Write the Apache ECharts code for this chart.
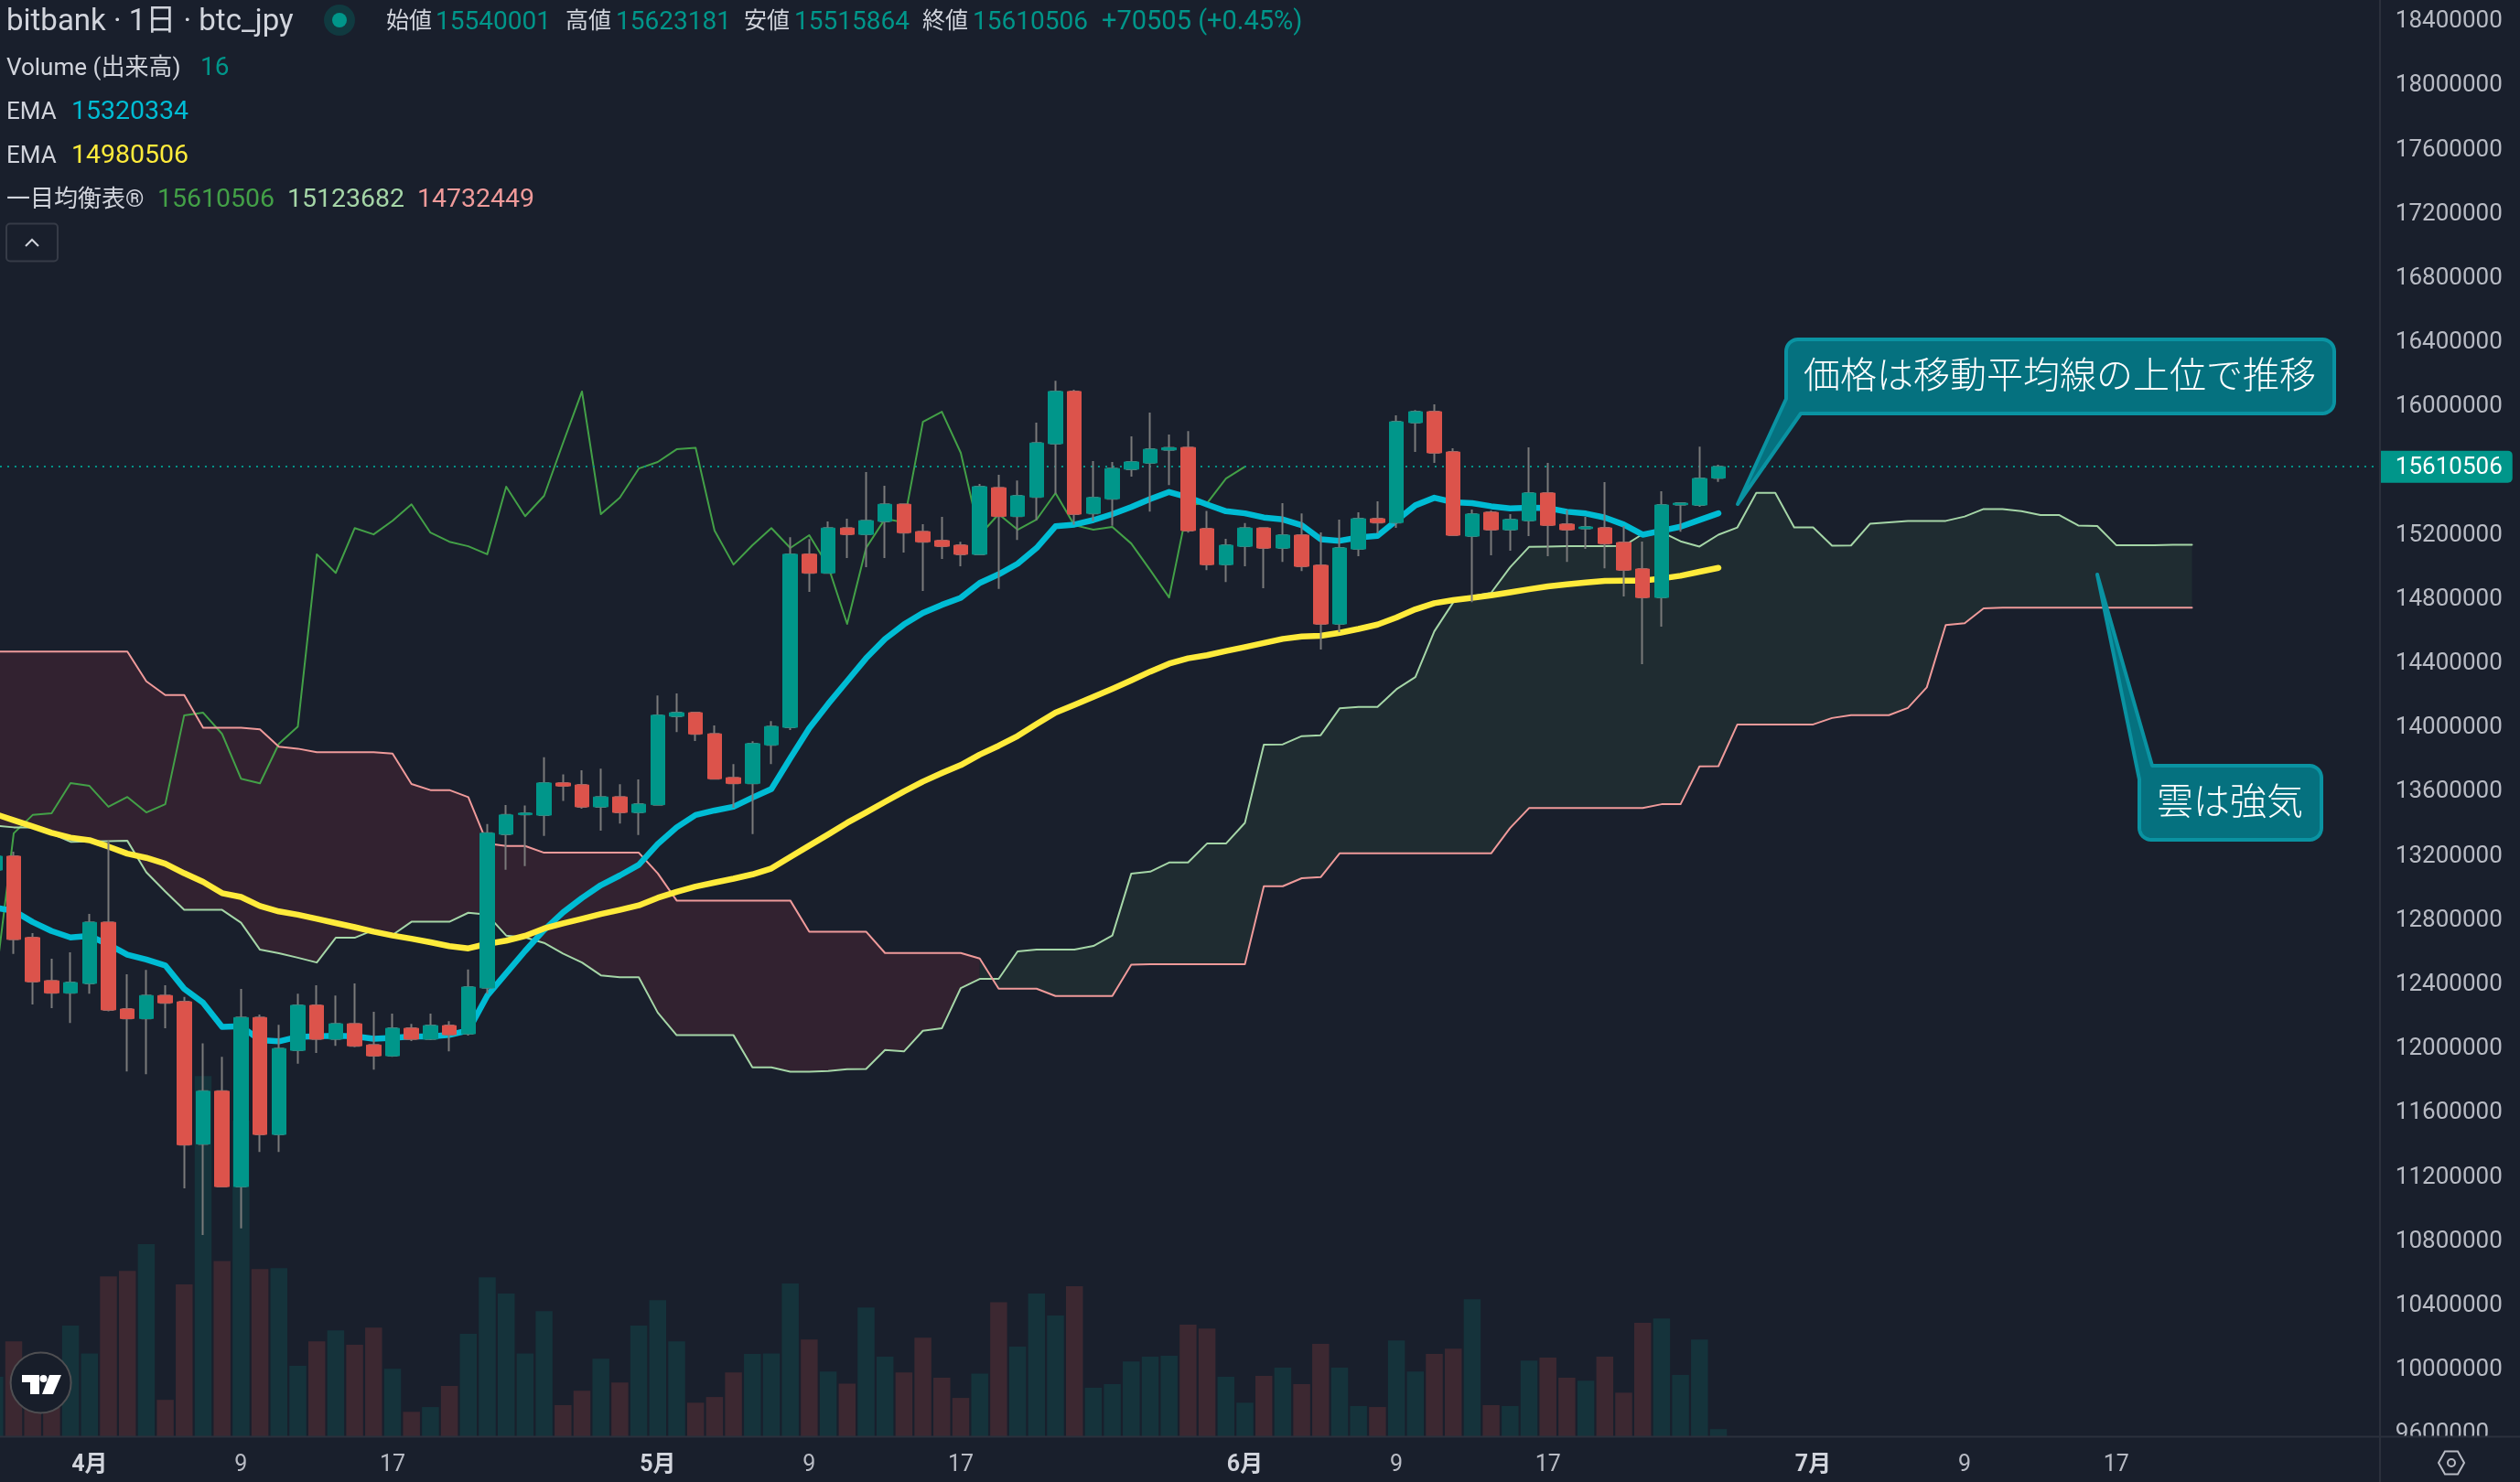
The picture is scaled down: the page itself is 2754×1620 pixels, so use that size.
<!DOCTYPE html>
<html lang="ja">
<head>
<meta charset="utf-8">
<title>bitbank BTC/JPY</title>
<script src="https://cdn.jsdelivr.net/npm/echarts@6/dist/echarts.min.js"></script>
<style>html,body{margin:0;padding:0;background:#191f2c}#chart{width:2754px;height:1620px}</style>
</head>
<body>
<div id="chart"></div>
<script>
// ---- DATA (JPY) ----
const dates = [
'3-27','3-28','3-29','3-30','3-31',
'4-1','4-2','4-3','4-4','4-5','4-6','4-7','4-8','4-9','4-10','4-11','4-12','4-13','4-14','4-15','4-16','4-17','4-18','4-19','4-20','4-21','4-22','4-23','4-24','4-25','4-26','4-27','4-28','4-29','4-30',
'5-1','5-2','5-3','5-4','5-5','5-6','5-7','5-8','5-9','5-10','5-11','5-12','5-13','5-14','5-15','5-16','5-17','5-18','5-19','5-20','5-21','5-22','5-23','5-24','5-25','5-26','5-27','5-28','5-29','5-30','5-31',
'6-1','6-2','6-3','6-4','6-5','6-6','6-7','6-8','6-9','6-10','6-11','6-12','6-13','6-14','6-15','6-16','6-17','6-18','6-19','6-20','6-21','6-22','6-23','6-24','6-25','6-26','6-27','6-28','6-29','6-30',
'7-1','7-2','7-3','7-4','7-5','7-6','7-7','7-8','7-9','7-10','7-11','7-12','7-13','7-14','7-15','7-16','7-17','7-18','7-19','7-20','7-21','7-22','7-23','7-24','7-25','7-26','7-27','7-28','7-29','7-30','7-31'];
const xTickLabels = {'4-1':'4月','4-9':'9','4-17':'17','5-1':'5月','5-9':'9','5-17':'17','6-1':'6月','6-9':'9','6-17':'17','7-1':'7月','7-9':'9','7-17':'17'};
const priceTicks = [18400000,18000000,17600000,17200000,16800000,16400000,16000000,15200000,14800000,14400000,14000000,13600000,13200000,12800000,12400000,12000000,11600000,11200000,10800000,10400000,10000000,9600000];
const lastPrice = 15610506;

const opens = [13098000,13184000,12677000,12408000,12333000,12392000,12772000,12232000,12173000,12316000,
12277000,11392000,11720000,11126000,12179000,11451000,11975000,12255000,12045000,12140000,
12008000,11941000,12112000,12045000,12129000,12078000,12364000,13321000,13444000,13440000,
13640000,13628000,13492000,13553000,13457000,13505000,14056000,14078000,13946000,13673000,
13638000,13878000,13987000,15065000,14949000,15228000,15189000,15270000,15376000,15206000,
15150000,15121000,15065000,15479000,15302000,15422000,15754000,16079000,15320000,15411000,
15595000,15634000,15715000,15730000,15224000,15001000,15115000,15228000,15104000,15184000,
14996000,14631000,15098000,15286000,15263000,15885000,15953000,15702000,15178000,15326000,
15218000,15275000,15446000,15252000,15225000,15229000,15138000,14973000,14796000,15374000,
15372000,15540001];
const closes = [13184000,12666000,12403000,12333000,12397000,12772000,12227000,12173000,12316000,12271000,
11387000,11720000,11126000,12179000,11451000,11986000,12255000,12045000,12140000,12003000,
11941000,12112000,12045000,12129000,12073000,12369000,13327000,13441000,13452000,13640000,
13622000,13492000,13553000,13457000,13508000,14062000,14078000,13946000,13667000,13638000,
13885000,13992000,15065000,14949000,15228000,15189000,15274000,15376000,15200000,15143000,
15115000,15065000,15486000,15302000,15429000,15758000,16079000,15315000,15418000,15599000,
15640000,15719000,15728000,15213000,15001000,15121000,15228000,15104000,15184000,14990000,
14631000,15104000,15286000,15263000,15890000,15953000,15697000,15184000,15315000,15218000,
15281000,15446000,15246000,15218000,15235000,15132000,14967000,14796000,15372000,15383000,
15537000,15610506];
const lows = [13050000,12576000,12260000,12238000,12145000,12327000,12218000,11843000,11826000,12112000,
11115000,10824000,11121000,10866000,11342000,11342000,11891000,11958000,12003000,11994000,
11854000,11935000,12033000,12039000,11969000,12067000,12327000,13100000,13122000,13310000,
13528000,13480000,13344000,13388000,13316000,13502000,13958000,13902000,13667000,13486000,
13322000,13758000,13970000,14831000,14949000,15041000,14984000,15041000,15076000,14836000,
15036000,14990000,15065000,14849000,15154000,15276000,15442000,15250000,15272000,15243000,
15549000,15331000,15496000,15200000,14966000,14892000,14990000,14853000,15018000,14961000,
14471000,14580000,15053000,15195000,15229000,15702000,15634000,15184000,14766000,15058000,
15087000,15178000,15053000,15018000,15098000,14978000,14802000,14380000,14614000,15206000,
15360000,15515864];
const highs = [13230000,13212000,12705000,12546000,12585000,12825000,13282000,12448000,12476000,12380000,
12308000,12019000,11935000,12358000,12198000,12134000,12327000,12380000,12316000,12392000,
12215000,12204000,12140000,12204000,12157000,12478000,13385000,13503000,13500000,13800000,
13694000,13720000,13730000,13633000,13662000,14186000,14198000,14078000,13998000,13758000,
13900000,14026000,15171000,15160000,15270000,15287000,15577000,15492000,15376000,15252000,
15298000,15143000,15503000,15560000,15525000,15885000,16146000,16090000,15645000,15640000,
15800000,15948000,15811000,15832000,15335000,15161000,15259000,15228000,15383000,15320000,
15201000,15281000,15326000,15395000,15930000,15964000,15999000,15725000,15343000,15338000,
15315000,15731000,15634000,15341000,15298000,15514000,15241000,15144000,15457000,15389000,
15736000,15623181];
const volumes = [125,199,132,132,232,174,335,346,402,77,
318,753,367,660,350,352,148,199,222,192,
228,142,52,62,106,215,333,299,174,262,
66,96,163,113,232,285,199,71,83,134,
173,174,320,203,136,111,270,167,134,207,
123,81,132,281,188,299,253,314,102,110,
157,167,169,234,226,125,71,127,144,110,
194,144,64,62,201,136,173,184,287,66,
64,159,165,123,117,167,92,238,247,129,
203,16];
const emaFast = [12864000,12844000,12774000,12718000,12678000,12688000,12634000,12570000,12540000,12504000,
12358000,12271000,12121000,12125000,12039000,12031000,12059000,12063000,12065000,12063000,
12047000,12053000,12061000,12061000,12071000,12099000,12315000,12455000,12594000,12724000,
12834000,12924000,13004000,13064000,13130000,13260000,13364000,13441000,13469000,13492000,
13549000,13603000,13795000,13981000,14133000,14275000,14417000,14537000,14628000,14700000,
14750000,14794000,14886000,14940000,15006000,15104000,15239000,15250000,15278000,15315000,
15359000,15409000,15453000,15420000,15375000,15333000,15320000,15294000,15282000,15246000,
15159000,15149000,15170000,15180000,15275000,15370000,15417000,15389000,15383000,15364000,
15351000,15355000,15353000,15330000,15319000,15294000,15250000,15187000,15212000,15237000,
15279000,15320334];
const emaSlow = [13448000,13408000,13370000,13330000,13300000,13284000,13244000,13200000,13174000,13138000,
13078000,13024000,12954000,12930000,12874000,12840000,12820000,12794000,12768000,12742000,
12714000,12690000,12670000,12648000,12624000,12610000,12638000,12658000,12688000,12734000,
12766000,12794000,12824000,12850000,12878000,12925000,12962000,12995000,13020000,13044000,
13071000,13108000,13180000,13250000,13320000,13392000,13457000,13523000,13588000,13649000,
13702000,13752000,13817000,13872000,13933000,14007000,14079000,14127000,14177000,14227000,
14279000,14334000,14384000,14417000,14436000,14462000,14487000,14512000,14538000,14553000,
14557000,14576000,14600000,14627000,14671000,14722000,14760000,14779000,14794000,14809000,
14828000,14847000,14865000,14878000,14889000,14899000,14901000,14901000,14914000,14931000,
14956000,14980506];
const chikou = [12369000,13327000,13441000,13452000,13640000,13622000,13492000,13553000,13457000,13508000,
14062000,14078000,13946000,13667000,13638000,13885000,13992000,15065000,14949000,15228000,
15189000,15274000,15376000,15200000,15143000,15115000,15065000,15486000,15302000,15429000,
15758000,16079000,15315000,15418000,15599000,15640000,15719000,15728000,15213000,15001000,
15121000,15228000,15104000,15184000,14990000,14631000,15104000,15286000,15263000,15890000,
15953000,15697000,15184000,15315000,15218000,15281000,15446000,15246000,15218000,15235000,
15132000,14967000,14796000,15372000,15383000,15537000,15610506];
const senkouA = [13374000,13364000,13364000,13324000,13274000,13276000,13278000,13280000,13084000,12964000,
12850000,12850000,12850000,12770000,12602000,12580000,12552000,12522000,12676000,12676000,
12724000,12694000,12776000,12776000,12776000,12832000,12820000,12690000,12678000,12644000,
12578000,12522000,12442000,12430000,12430000,12210000,12069000,12069000,12069000,12069000,
11869000,11869000,11842000,11842000,11846000,11857000,11859000,11977000,11968000,12097000,
12112000,12363000,12420000,12420000,12591000,12602000,12602000,12602000,12625000,12690000,
13075000,13088000,13145000,13145000,13263000,13263000,13392000,13879000,13881000,13932000,
13938000,14105000,14114000,14114000,14224000,14300000,14585000,14766000,14804000,14825000,
14984000,15111000,15113000,15115000,15115000,15115000,15117000,15191000,15203000,15146000,
15113000,15187000,15232000,15447000,15447000,15232000,15232000,15118000,15120000,15255000,
15264000,15273000,15273000,15273000,15300000,15347000,15347000,15334000,15309000,15309000,
15244000,15241000,15122000,15122000,15122000,15124000,15123682];
const senkouB = [14459000,14459000,14459000,14459000,14459000,14459000,14459000,14459000,14274000,14188000,
14188000,13984000,13984000,13984000,13974000,13866000,13854000,13832000,13832000,13832000,
13832000,13824000,13634000,13596000,13596000,13552000,13264000,13248000,13248000,13206000,
13206000,13206000,13206000,13206000,13206000,13078000,12908000,12908000,12908000,12908000,
12908000,12908000,12908000,12714000,12714000,12714000,12714000,12581000,12581000,12581000,
12581000,12581000,12547000,12359000,12359000,12359000,12313000,12313000,12313000,12313000,
12509000,12511000,12511000,12511000,12511000,12511000,12511000,12997000,12997000,13047000,
13054000,13202000,13202000,13202000,13202000,13202000,13202000,13202000,13202000,13202000,
13360000,13484000,13484000,13484000,13484000,13484000,13484000,13484000,13508000,13508000,
13744000,13745000,14005000,14005000,14005000,14005000,14005000,14045000,14063000,14063000,
14063000,14108000,14236000,14624000,14635000,14728000,14732000,14732000,14732000,14732000,
14732000,14732000,14732000,14732000,14732000,14732000,14732449];

// ---- STYLE ----
const BG = '#191f2c', TEXT = '#d1d4dc', AXIS_TEXT = '#b8bbc4', LINE = '#2b303c';
const UP = '#00968a', DOWN = '#dc534b', WICK = '#7a7a7a';
const VOL_UP = '#15333b', VOL_DOWN = '#3c2831';
const CLOUD_UP = '#1f2c31', CLOUD_DOWN = '#322230';
const C_EMA1 = '#00bcd4', C_EMA2 = '#ffeb3b', C_CHIKOU = '#43a047', C_A = '#a5d6a7', C_B = '#ef9a9a';
const FONT = 'Roboto, "Noto Sans CJK JP", sans-serif';
const JP = '"Noto Sans CJK JP", Roboto, sans-serif';

const priceMin = 9568000, priceMax = 18517700;

function renderCloud(params, api) {
  const polys = [];
  let run = null;
  const n = Math.min(senkouA.length, senkouB.length);
  for (let i = 0; i < n - 1; i++) {
    const bull = senkouA[i + 1] >= senkouB[i + 1];
    if (!run || run.bull !== bull) { run = {bull, from: i, to: i + 1}; polys.push(run); }
    else run.to = i + 1;
  }
  const children = polys.map(r => {
    const pts = [];
    for (let i = r.from; i <= r.to; i++) pts.push(api.coord([i, senkouA[i]]));
    for (let i = r.to; i >= r.from; i--) pts.push(api.coord([i, senkouB[i]]));
    return {type: 'polygon', shape: {points: pts}, style: {fill: r.bull ? CLOUD_UP : CLOUD_DOWN}};
  });
  return {type: 'group', children};
}

function txt(text, x, y, fill, size, family, align, weight, z) {
  return {type: 'text', z: z || 60, silent: true,
    style: {text, x, y, fill, font: (weight || 400) + ' ' + size + 'px ' + (family || FONT), verticalAlign: 'middle', align: align || 'left'}};
}
function lineEl(x1, y1, x2, y2, stroke, w, z) {
  return {type: 'line', z, silent: true, shape: {x1, y1, x2, y2}, style: {stroke, lineWidth: w}};
}
function poly(points, style, z) {
  return {type: 'polygon', z, silent: true, shape: {points}, style};
}
function arc(cx, cy, r, a0, a1) {
  const out = [];
  for (let k = 0; k <= 8; k++) {
    const a = (a0 + (a1 - a0) * k / 8) * Math.PI / 180;
    out.push([cx + r * Math.cos(a), cy + r * Math.sin(a)]);
  }
  return out;
}
const calloutStyle = {fill: '#05717f', stroke: '#0a93a2', lineWidth: 4, lineJoin: 'round'};

const calloutOne = [].concat(
  arc(1965, 384, 13, 180, 270), arc(2538, 384, 13, 270, 360), arc(2538, 439, 13, 0, 90),
  [[1968, 452], [1899, 551], [1952, 436]]);
const calloutTwo = [].concat(
  [[2352, 837]], arc(2524, 850, 13, 270, 360), arc(2524, 905, 13, 0, 90), arc(2351, 905, 13, 90, 180),
  [[2338, 852], [2292, 628]]);

const graphicEls = [
  {type: 'rect', z: 30, silent: true, shape: {x: 2602, y: 0, width: 152, height: 1620}, style: {fill: BG}},
  {type: 'rect', z: 36, silent: true, shape: {x: 0, y: 1570, width: 2754, height: 50}, style: {fill: BG}},
  lineEl(0, 1570.5, 2754, 1570.5, LINE, 2, 41),
  lineEl(2601, 0, 2601, 1620, LINE, 2, 41),
  // settings icon
  poly([[2665, 1599], [2672, 1586.5], [2686, 1586.5], [2693, 1599], [2686, 1611.5], [2672, 1611.5]], {fill: 'none', stroke: AXIS_TEXT, lineWidth: 2}, 42),
  {type: 'circle', z: 42, silent: true, shape: {cx: 2679, cy: 1599, r: 4}, style: {fill: 'none', stroke: AXIS_TEXT, lineWidth: 2}},
  // TradingView badge
  {type: 'circle', z: 50, silent: true, shape: {cx: 44.6, cy: 1511.5, r: 33}, style: {fill: '#181e2a', stroke: '#4f4f52', lineWidth: 2}},
  poly([[24, 1503], [43, 1503], [43, 1524], [33, 1524], [33, 1511], [24, 1511]], {fill: '#ffffff'}, 51),
  poly([[54, 1503], [67, 1503], [58, 1524], [46, 1524]], {fill: '#ffffff'}, 51),
  {type: 'circle', z: 51, silent: true, shape: {cx: 47.5, cy: 1507, r: 4}, style: {fill: '#ffffff'}},
  // legend block
  txt('bitbank · 1日 · btc_jpy', 7, 25, TEXT, 33),
  {type: 'circle', z: 60, silent: true, shape: {cx: 371, cy: 22, r: 17}, style: {fill: '#103a40'}},
  {type: 'circle', z: 61, silent: true, shape: {cx: 371, cy: 22, r: 8}, style: {fill: '#00968a'}},
  txt('始値', 422, 25, TEXT, 25), txt('15540001', 476, 25, UP, 28),
  txt('高値', 618, 25, TEXT, 25), txt('15623181', 673, 25, UP, 28),
  txt('安値', 813, 25, TEXT, 25), txt('15515864', 868, 25, UP, 28),
  txt('終値', 1008, 25, TEXT, 25), txt('15610506', 1063, 25, UP, 28),
  txt('+70505 (+0.45%)', 1204, 25, UP, 29),
  txt('Volume (出来高)', 7, 75, TEXT, 26), txt('16', 219, 75, UP, 28),
  txt('EMA', 7, 123, TEXT, 26), txt('15320334', 78, 123, C_EMA1, 28.5),
  txt('EMA', 7, 171, TEXT, 26), txt('14980506', 78, 171, C_EMA2, 28.5),
  txt('一目均衡表®', 7, 219, TEXT, 26),
  txt('15610506', 172, 219, C_CHIKOU, 28.5), txt('15123682', 314, 219, C_A, 28.5), txt('14732449', 456, 219, C_B, 28.5),
  {type: 'rect', z: 60, silent: true, shape: {x: 7, y: 244.5, width: 56, height: 41, r: 4}, style: {fill: 'none', stroke: '#363b47', lineWidth: 2}},
  {type: 'polyline', z: 60, silent: true, shape: {points: [[28, 269], [35, 262], [42, 269]]}, style: {fill: 'none', stroke: TEXT, lineWidth: 2}},
  // callouts
  poly(calloutOne, calloutStyle, 55),
  txt('価格は移動平均線の上位で推移', 2251, 409, '#ffffff', 40, JP, 'center', 300, 56),
  poly(calloutTwo, calloutStyle, 55),
  txt('雲は強気', 2437, 875, '#ffffff', 40, JP, 'center', 300, 56)
];

const chart = echarts.init(document.getElementById('chart'), null, {renderer: 'canvas', width: 2754, height: 1620});
const lineSeries = (name, data, color, width, z) => ({
  name, type: 'line', data, z, xAxisIndex: 0, yAxisIndex: 0, showSymbol: false, symbol: 'none', silent: true,
  lineStyle: {color, width, cap: 'round', join: 'round'}, itemStyle: {color}, smooth: false
});

chart.setOption({
  animation: false,
  backgroundColor: BG,
  grid: {left: -16.05, top: 0, width: 2628.9, height: 1570.5, containLabel: false, outerBoundsMode: 'none'},
  xAxis: {
    type: 'category', data: dates, boundaryGap: true, z: 40,
    axisLine: {show: false}, axisTick: {show: false}, splitLine: {show: false},
    axisLabel: {
      interval: (i, v) => v in xTickLabels,
      margin: 19,
      color: AXIS_TEXT, fontSize: 25, fontFamily: FONT,
      formatter: v => {
        const s = xTickLabels[v] || '';
        return s.indexOf('月') >= 0 ? '{m|' + s + '}' : s;
      },
      rich: {m: {color: TEXT, fontSize: 25, fontWeight: 'bold', fontFamily: FONT}}
    }
  },
  yAxis: [
    {type: 'value', position: 'right', min: priceMin, max: priceMax, z: 35, scale: true,
     axisLine: {show: false}, axisTick: {show: false}, splitLine: {show: false},
     axisLabel: {customValues: priceTicks, margin: 5, align: 'left', formatter: v => '{p|' + v + '}',
       rich: {p: {color: AXIS_TEXT, fontSize: 26, fontFamily: FONT, padding: [6, 0, 0, 0]}}}},
    {type: 'value', position: 'right', min: priceMin, max: priceMax, z: 35, scale: true,
     axisLine: {show: false}, axisTick: {show: false}, splitLine: {show: false},
     axisLabel: {customValues: [lastPrice], margin: -12, align: 'left',
       backgroundColor: UP, padding: [3, 11, 3, 17], borderRadius: [0, 5, 5, 0], formatter: v => '{p|' + v + '}',
       rich: {p: {color: '#ffffff', fontSize: 26, fontFamily: FONT, padding: [3, 0, 0, 0]}}}},
    {type: 'value', show: false, min: 0, max: 3000, splitLine: {show: false}}
  ],
  graphic: {elements: graphicEls},
  series: [
    {name: 'Volume', type: 'bar', data: volumes, yAxisIndex: 2, z: 1, barWidth: 18.5, silent: true,
     itemStyle: {color: p => closes[p.dataIndex] >= opens[p.dataIndex] ? VOL_UP : VOL_DOWN}},
    {name: 'Cloud', type: 'custom', coordinateSystem: 'cartesian2d', data: [[0, senkouA[0]]], z: 2, silent: true, clip: true, renderItem: renderCloud},
    lineSeries('Chikou', chikou, C_CHIKOU, 2, 3),
    lineSeries('Senkou A', senkouA, C_A, 2, 3),
    lineSeries('Senkou B', senkouB, C_B, 2, 3),
    lineSeries('EMA fast', emaFast, C_EMA1, 6.5, 4),
    lineSeries('EMA slow', emaSlow, C_EMA2, 6.5, 4),
    {name: 'Wicks', type: 'candlestick', z: 5, barWidth: 10, silent: true,
     data: opens.map((o, i) => [o, closes[i], lows[i], highs[i]]),
     itemStyle: {color: WICK, color0: WICK, borderColor: WICK, borderColor0: WICK, borderColorDoji: WICK, borderWidth: 2}},
    {name: 'btc_jpy', type: 'candlestick', z: 6, barWidth: 16, silent: true,
     data: opens.map((o, i) => [o, closes[i], Math.min(o, closes[i]), Math.max(o, closes[i])]),
     itemStyle: {color: UP, color0: DOWN, borderColor: UP, borderColor0: DOWN, borderWidth: 1},
     markLine: {silent: true, symbol: 'none', label: {show: false}, animation: false,
       lineStyle: {type: [2, 6], color: UP, width: 2, opacity: 1},
       data: [{yAxis: lastPrice}]}}
  ]
});
</script>
</body>
</html>
